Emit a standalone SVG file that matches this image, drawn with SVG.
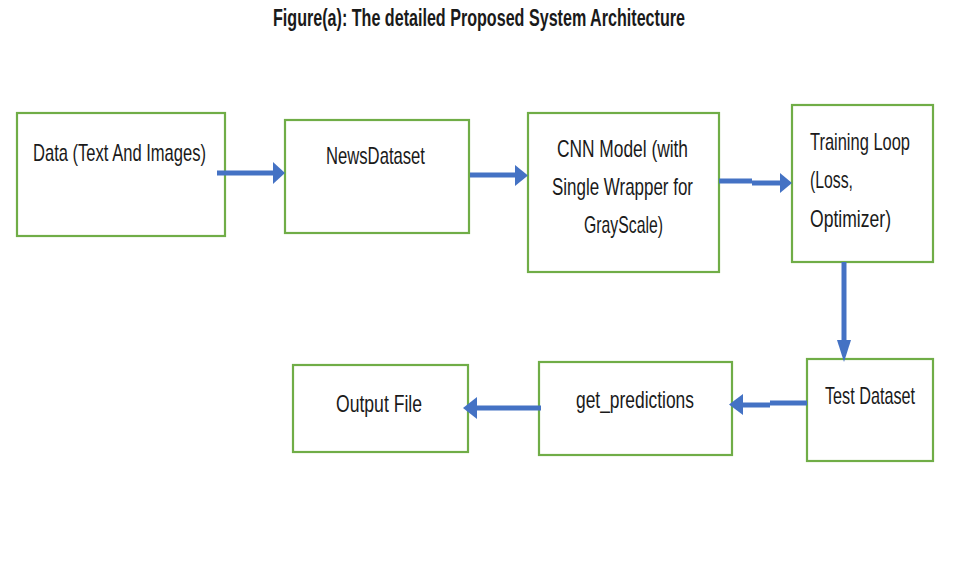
<svg xmlns="http://www.w3.org/2000/svg" width="959" height="580" viewBox="0 0 959 580">
<style>
.box{fill:#fff;stroke:#70AD47;stroke-width:2.2}
.t{font-family:"Liberation Sans",Arial,sans-serif;font-size:24px;fill:#1a1a1a}
.title{font-family:"Liberation Sans",Arial,sans-serif;font-size:23px;font-weight:bold;fill:#1a1a1a}
.c{fill:none;stroke:#4472C4;stroke-width:5}
.h{fill:#4472C4}
</style>
<rect width="959" height="580" fill="#fff"/>
<text class="title" x="273" y="26" textLength="412" lengthAdjust="spacingAndGlyphs">Figure(a): The detailed Proposed System Architecture</text>
<g id="n1"><rect class="box" x="17" y="113" width="208" height="123"/><text class="t" x="33" y="161" textLength="173" lengthAdjust="spacingAndGlyphs">Data (Text And Images)</text></g>
<g id="n2"><rect class="box" x="285" y="120" width="184" height="113"/><text class="t" x="326" y="164" textLength="99" lengthAdjust="spacingAndGlyphs">NewsDataset</text></g>
<g id="n3"><rect class="box" x="528" y="113" width="191" height="159"/><text class="t" x="557" y="157" textLength="131" lengthAdjust="spacingAndGlyphs">CNN Model (with</text><text class="t" x="552" y="195" textLength="141" lengthAdjust="spacingAndGlyphs">Single Wrapper for</text><text class="t" x="584" y="233" textLength="79" lengthAdjust="spacingAndGlyphs">GrayScale)</text></g>
<g id="n4"><rect class="box" x="792" y="105" width="141" height="157"/><text class="t" x="810" y="150" textLength="100" lengthAdjust="spacingAndGlyphs">Training Loop</text><text class="t" x="810" y="188" textLength="43" lengthAdjust="spacingAndGlyphs">(Loss,</text><text class="t" x="810" y="227" textLength="81" lengthAdjust="spacingAndGlyphs">Optimizer)</text></g>
<g id="n5"><rect class="box" x="807" y="359" width="126" height="102"/><text class="t" x="825" y="404" textLength="90" lengthAdjust="spacingAndGlyphs">Test Dataset</text></g>
<g id="n6"><rect class="box" x="539" y="362" width="193" height="93"/><text class="t" x="576" y="408" textLength="118" lengthAdjust="spacingAndGlyphs">get_predictions</text></g>
<g id="n7"><rect class="box" x="293" y="365" width="175" height="87"/><text class="t" x="336" y="412" textLength="86" lengthAdjust="spacingAndGlyphs">Output File</text></g>
<g id="connectors">
<path class="c" d="M217 173H275"/><path class="h" d="M273 162L285 173L273 184Z"/>
<path class="c" d="M470 175H517"/><path class="h" d="M515 165L528 175.5L515 186Z"/>
<path class="c" d="M719 181H752M752 183H782"/><path class="h" d="M780 173L792 183L780 193Z"/>
<path class="c" d="M844 262V342"/><path class="h" d="M837 340L844 362L851 340Z"/>
<path class="c" d="M807 403H770M770 405H741"/><path class="h" d="M743 394L729 404.5L743 415Z"/>
<path class="c" d="M541 408H475"/><path class="h" d="M477 397L463 408L477 419Z"/>
</g>
</svg>
